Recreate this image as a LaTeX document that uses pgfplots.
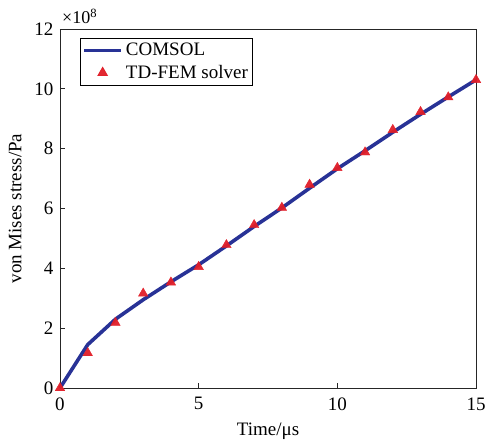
\documentclass[border=0pt]{standalone}
\usepackage{pgfplots}
\pgfplotsset{compat=1.18}
\usepackage{fontspec}
\setmainfont{Liberation Serif}

\definecolor{comsolblue}{RGB}{40,50,150}
\definecolor{femred}{RGB}{225,30,40}

\pgfplotsset{
  longline legend/.style={legend image code/.code={\draw[##1] (0cm,0cm) -- (1.3cm,0cm);}},
  centermark legend/.style={legend image code/.code={\draw[##1] plot coordinates {(0.65cm,0cm)};}},
}

\pgfplotstableread{
t   s
0   0
1   1.45
2   2.30
3   2.95
4   3.55
5   4.12
6   4.75
7   5.40
8   6.02
9   6.68
10  7.33
11  7.93
12  8.55
13  9.15
14  9.73
15  10.30
}\comsol

\pgfplotstableread{
t   s
0   0
1   1.17
2   2.18
3   3.16
4   3.53
5   4.05
6   4.78
7   5.45
8   6.03
9   6.80
10  7.36
11  7.88
12  8.63
13  9.23
14  9.72
15  10.30
}\tdfem

\begin{document}
\begin{tikzpicture}
\begin{axis}[
  scale only axis,
  width=416pt, height=359pt,
  xmin=0, xmax=15, ymin=0, ymax=12,
  xtick={0,5,10,15}, ytick={0,2,...,12},
  tick pos=left, tick align=inside,
  major tick length=5pt,
  axis line style={line width=0.9pt, black!85},
  tick style={line width=0.9pt, black!85},
  /pgf/number format/assume math mode=true,
  xticklabel={\pgfmathprintnumber{\tick}},
  yticklabel={\pgfmathprintnumber{\tick}},
  ticklabel style={font=\rmfamily\fontsize{19}{19}\selectfont},
  xticklabel style={yshift=-6pt},
  yticklabel style={xshift=-3pt},
  xlabel={Time/μs}, ylabel={von Mises stress/Pa},
  label style={font=\rmfamily\fontsize{19}{19}\selectfont},
  xlabel style={yshift=-6pt},
  ylabel style={yshift=6pt},
  legend style={at={(0.048,0.975)}, anchor=north west,
    draw=black, line width=0.8pt, inner sep=2pt,
    font=\rmfamily\fontsize{19}{19}\selectfont,
    nodes={inner sep=3pt},
    row sep=2pt, legend cell align=left},
  clip=false,
]
\addplot[comsolblue, line width=3.6pt, line join=round, longline legend]
  table[x=t,y=s] {\comsol};
\addlegendentry{COMSOL}
\addplot[only marks, mark=triangle*, mark size=5.5pt,
  mark options={fill=femred, draw=femred, opacity=0.95}, centermark legend]
  table[x=t,y=s] {\tdfem};
\addlegendentry{TD-FEM solver}
\node[anchor=south west, inner sep=1pt, xshift=1pt, yshift=4pt,
  font=\rmfamily\fontsize{18}{18}\selectfont]
  at (rel axis cs:0,1) {×10\textsuperscript{8}};
\coordinate (bl) at (rel axis cs:0,0);
\coordinate (tr) at (rel axis cs:1,1);
\end{axis}
\pgfresetboundingbox
\path ([shift={(-60pt,-51pt)}]bl) rectangle ([shift={(18pt,29pt)}]tr);
\end{tikzpicture}
\end{document}
